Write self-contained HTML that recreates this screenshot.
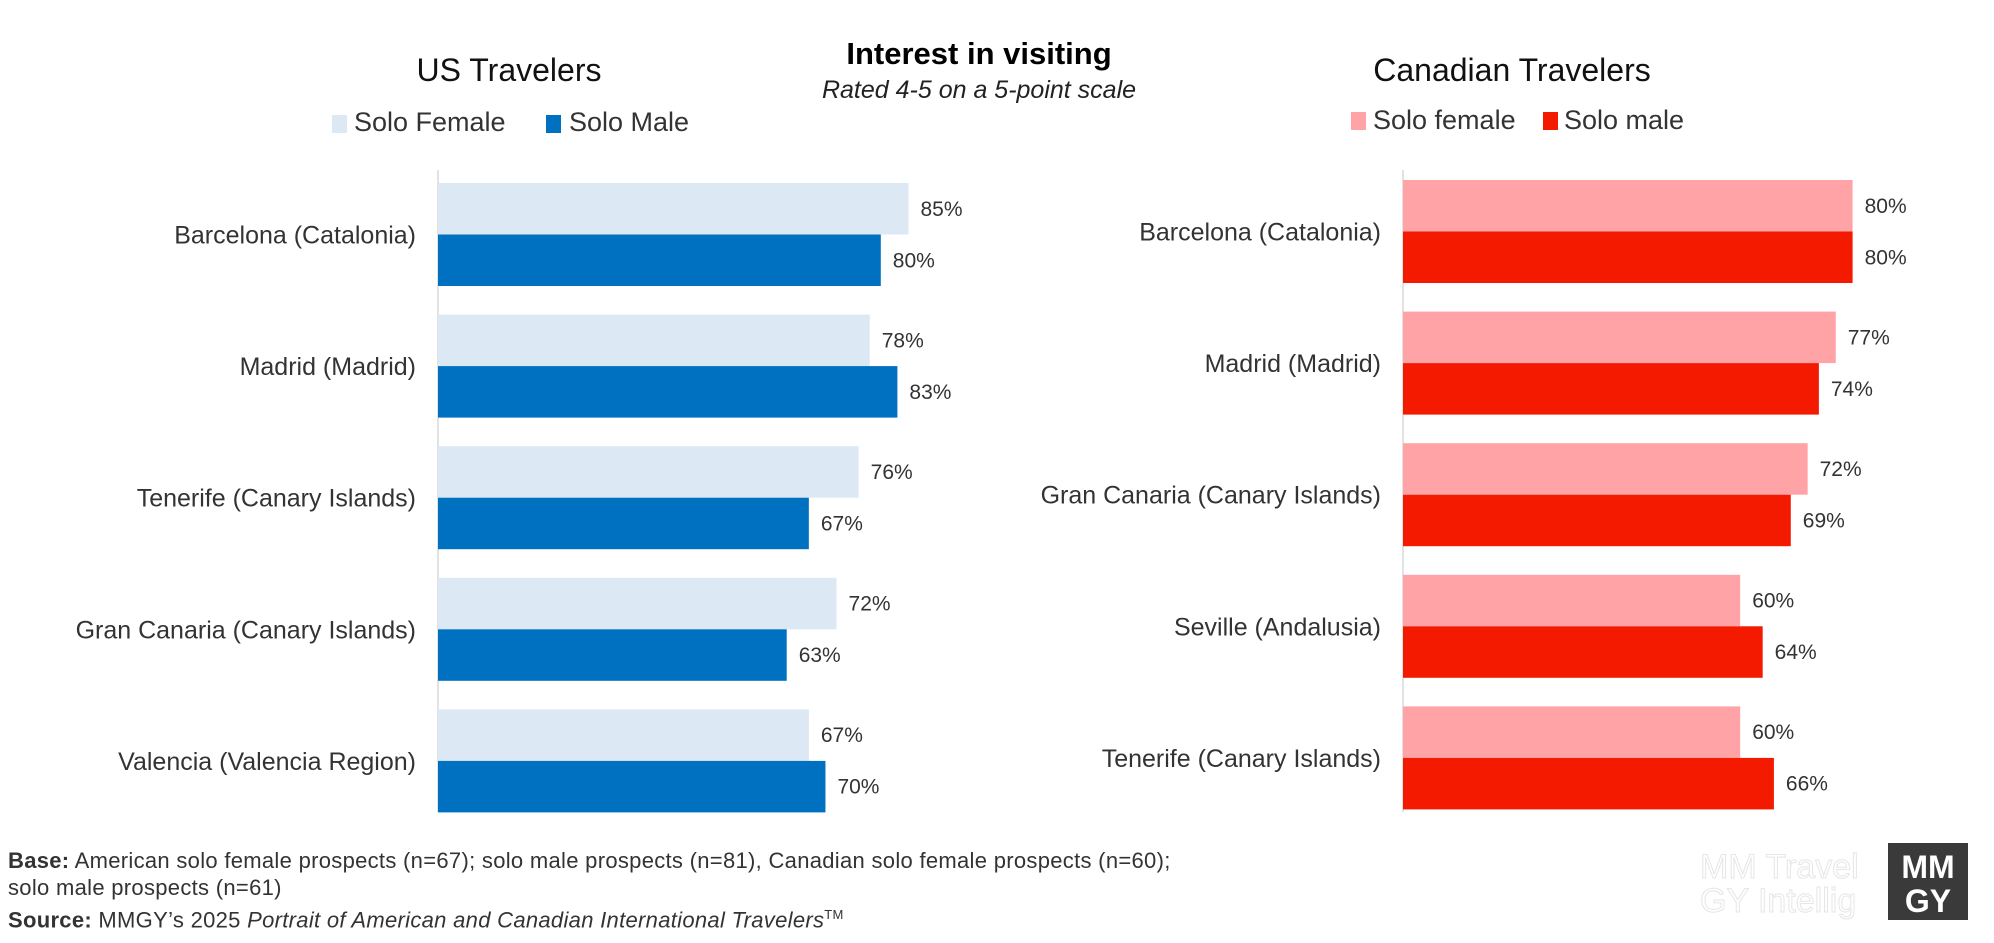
<!DOCTYPE html>
<html><head><meta charset="utf-8"><style>
body{margin:0;width:1994px;height:938px;background:#fff;overflow:hidden;font-family:"Liberation Sans",sans-serif;color:#222}
svg text{font-family:"Liberation Sans",sans-serif}
</style></head><body>
<svg width="1994" height="938">
<text x="979" y="64" text-anchor="middle" font-size="31" font-weight="bold" fill="#000">Interest in visiting</text>
<text x="979" y="98" text-anchor="middle" font-size="25" font-style="italic" fill="#222">Rated 4-5 on a 5-point scale</text>
<text x="509" y="81" text-anchor="middle" font-size="32" fill="#111">US Travelers</text>
<text x="1512" y="81" text-anchor="middle" font-size="32" fill="#111">Canadian Travelers</text>
<rect x="332" y="115" width="15" height="18" fill="#dce9f5"/>
<text x="354" y="131" font-size="27" fill="#333">Solo Female</text>
<rect x="546" y="115" width="15" height="18" fill="#0070c0"/>
<text x="569" y="131" font-size="27" fill="#333">Solo Male</text>
<rect x="1351" y="112" width="15" height="18" fill="#ffa3a6"/>
<text x="1373" y="129" font-size="27" fill="#333">Solo female</text>
<rect x="1543" y="112" width="15" height="18" fill="#f31a00"/>
<text x="1564" y="129" font-size="27" fill="#333">Solo male</text>
<g id="us"></g>
<g id="ca"></g>
<g>
<text x="1700" y="878" font-size="34" font-family="Liberation Serif" fill="none" stroke="#e6e6e6" stroke-width="1">MM  Travel</text>
<text x="1700" y="912" font-size="34" font-family="Liberation Serif" fill="none" stroke="#e6e6e6" stroke-width="1">GY  Intellig</text>
<rect x="1888" y="843" width="80" height="77" fill="#3a3a3a"/>
<text x="1928" y="878" text-anchor="middle" font-size="32" font-weight="bold" fill="#fff">MM</text>
<text x="1928" y="912" text-anchor="middle" font-size="32" font-weight="bold" fill="#fff">GY</text>
</g>
</svg>
<div style="position:absolute;left:8px;top:847px;font-size:22px;line-height:27px;color:#333;letter-spacing:0.3px">
<b>Base:</b> American solo female prospects (n=67); solo male prospects (n=81), Canadian solo female prospects (n=60);<br>solo male prospects (n=61)<br><b>Source:</b> MMGY’s 2025 <i>Portrait of American and Canadian International Travelers</i><sup style="font-size:13px">TM</sup>
</div>
<script>
const usCategories=["Barcelona (Catalonia)","Madrid (Madrid)","Tenerife (Canary Islands)","Gran Canaria (Canary Islands)","Valencia (Valencia Region)"];
const usFemale=[85,78,76,72,67];
const usMale=[80,83,67,63,70];
const caCategories=["Barcelona (Catalonia)","Madrid (Madrid)","Gran Canaria (Canary Islands)","Seville (Andalusia)","Tenerife (Canary Islands)"];
const caFemale=[80,77,72,60,60];
const caMale=[80,74,69,64,66];
const NS="http://www.w3.org/2000/svg";
function mk(g,tag,attrs,txt){const e=document.createElementNS(NS,tag);for(const k in attrs)e.setAttribute(k,attrs[k]);if(txt!==undefined)e.textContent=txt;g.appendChild(e);return e;}
function panel(id,cats,fem,male,x0,k,top,cF,cM){
  const g=document.getElementById(id);
  const ax=mk(g,'line',{x1:x0,x2:x0,y1:170,y2:812,stroke:'#d9d9d9','stroke-width':1.5});
  
  
  const xs=v=>x0+v*k, step=131.6, bh=51.5;
  cats.forEach((c,i)=>{
    const y=top+i*step;
    const l=mk(g,'text',{x:x0-22,y:y+bh+9,'text-anchor':'end','font-size':25,fill:'#333'},c);
    
    
    [[fem[i],cF,y,'female'],[male[i],cM,y+bh,'male']].forEach(([v,col,yy,s])=>{
      const r=mk(g,'rect',{x:x0,y:yy,width:xs(v)-x0,height:bh,fill:col});
      
      
      const t=mk(g,'text',{x:xs(v)+12,y:yy+bh/2+7,'font-size':21,fill:'#333'},v+'%');
      
      
    });
  });
}
panel('us',usCategories,usFemale,usMale,438,5.535,183,'#dce9f5','#0070c0');
panel('ca',caCategories,caFemale,caMale,1403,5.62,180,'#ffa3a6','#f31a00');
</script>
</body></html>
